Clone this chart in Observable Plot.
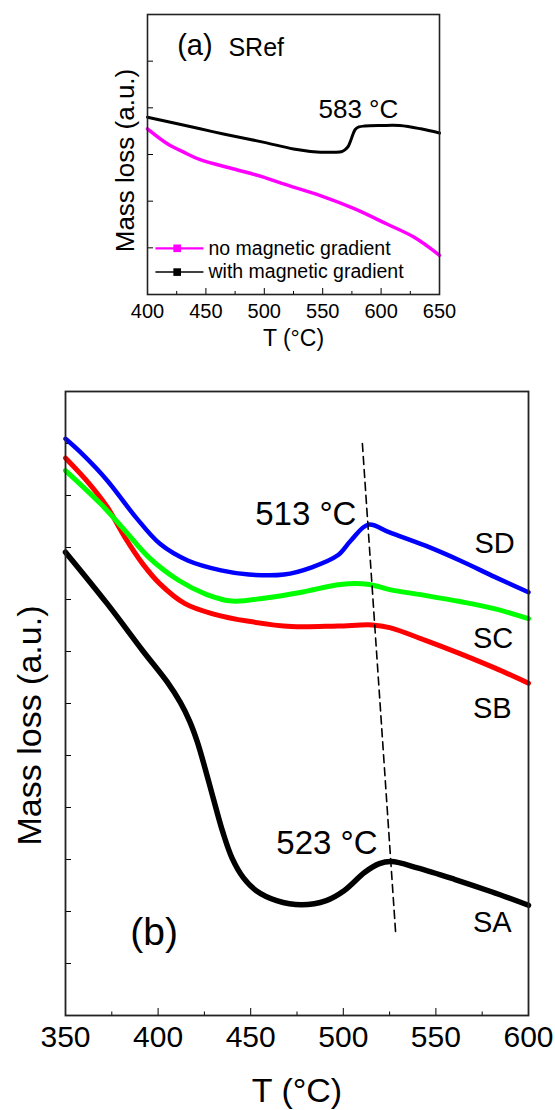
<!DOCTYPE html>
<html><head><meta charset="utf-8">
<script src="https://cdn.jsdelivr.net/npm/d3@7"></script>
<script src="https://cdn.jsdelivr.net/npm/@observablehq/plot@0.6"></script>
<style>body{margin:0;background:#fff;} #chart svg{display:block;}</style>
</head><body><div id="chart"></div>
<script>
// ---------- Panel (a): SRef ----------
const aNoGradT = [400, 417, 431, 445, 474, 500, 515, 548, 577, 605, 628, 650];
const aNoGradY = [3.55, 3.23, 3.05, 2.89, 2.69, 2.51, 2.38, 2.12, 1.84, 1.51, 1.23, 0.84];
const aWithGradT = [400, 445, 465, 500, 525, 548, 560, 566, 569, 572, 574, 576, 578, 581, 586, 600, 616, 634, 650];
const aWithGradY = [3.80, 3.55, 3.44, 3.26, 3.12, 3.05, 3.05, 3.06, 3.10, 3.18, 3.30, 3.44, 3.54, 3.59, 3.61, 3.62, 3.62, 3.55, 3.46];
const aXMajor = [400, 450, 500, 550, 600, 650];
const aXMinor = [425, 475, 525, 575, 625];
const aYTicks = [1, 2, 3, 4, 5];
const aLegendNames = ["no magnetic gradient", "with magnetic gradient"];

// ---------- Panel (b): SA-SD ----------
const sdT = [350, 359, 372.5, 388, 401, 416, 434, 449, 468, 483, 497, 504, 513.5, 525, 544, 563, 582, 600];
const sdY = [11.09, 10.80, 10.29, 9.58, 9.07, 8.75, 8.56, 8.48, 8.48, 8.62, 8.85, 9.13, 9.44, 9.29, 9.04, 8.75, 8.43, 8.14];
const scT = [350, 369, 382, 395, 411, 426, 440, 458, 477.5, 498.5, 514, 525, 544, 563, 582, 600];
const scY = [10.48, 9.84, 9.33, 8.81, 8.37, 8.10, 7.97, 8.03, 8.14, 8.29, 8.29, 8.19, 8.08, 7.96, 7.82, 7.63];
const sbT = [350, 363, 372.5, 382, 391.6, 401, 414.5, 430, 449, 472, 497, 515.6, 525, 544, 563, 582, 600];
const sbY = [10.72, 10.22, 9.78, 9.20, 8.69, 8.30, 7.92, 7.72, 7.58, 7.48, 7.49, 7.51, 7.46, 7.22, 6.96, 6.68, 6.39];
const saT = [350, 372.5, 391.6, 405, 412, 417, 421, 425, 430, 435, 440, 446, 453, 464, 477.5, 490.8, 500.4, 511.8, 519.5, 526, 540, 560, 580, 600];
const saY = [8.91, 7.92, 7.02, 6.41, 6.02, 5.66, 5.28, 4.80, 4.15, 3.52, 3.02, 2.65, 2.40, 2.21, 2.13, 2.21, 2.40, 2.76, 2.92, 2.96, 2.84, 2.62, 2.38, 2.12];
const guideT = [510.3, 528.3];
const guideY = [11.0, 1.57];
const bXMajor = [350, 400, 450, 500, 550, 600];
const bXMinor = [375, 425, 475, 525, 575];
const bYTicks = [1, 2, 3, 4, 5, 6, 7, 8, 9, 10, 11];

const FONT = "'Liberation Sans', Arial, Helvetica, sans-serif";
const rows = (T, Y) => T.map((t, i) => ({T: t, y: Y[i]}));
const blank = () => "";

// annotations (data coordinates)
const aNotes = [
  {text: "(a)", T: 425.4, y: 5.14, size: 29},
  {text: "SRef", T: 469.3, y: 5.12, size: 25},
  {text: "583 °C", T: 546.4, y: 3.79, size: 26}
];
const aLegend = [
  {name: aLegendNames[0], color: "#ff00ff", y: 0.99, w: 2.2},
  {name: aLegendNames[1], color: "#000000", y: 0.48, w: 1.5}
];
const bNotesEnd = [
  {text: "513 °C", T: 507.1, y: 9.44},
  {text: "523 °C", T: 518.5, y: 3.10}
];
const bNotesStart = [
  {text: "SD", T: 570.8, y: 8.90},
  {text: "SC", T: 570, y: 7.06},
  {text: "SB", T: 570, y: 5.73},
  {text: "SA", T: 570, y: 1.60}
];

const plotA = Plot.plot({
  width: 555, height: 360,
  marginLeft: 147, marginRight: 116, marginTop: 14, marginBottom: 66,
  x: {domain: [400, 650]}, y: {domain: [0, 6]},
  style: {fontFamily: FONT, background: "white", overflow: "visible", color: "#000"},
  marks: [
    Plot.axisX({ticks: aXMajor, tickSize: -6, tickPadding: 15, fontSize: 20, label: null}),
    Plot.axisX({ticks: aXMinor, tickSize: -3, tickFormat: blank, label: null}),
    Plot.axisY({ticks: aYTicks, tickSize: -6, tickFormat: blank, label: null}),
    Plot.line(rows(aNoGradT, aNoGradY), {x: "T", y: "y", stroke: "#ff00ff", strokeWidth: 3.5, curve: "catmull-rom"}),
    Plot.line(rows(aWithGradT, aWithGradY), {x: "T", y: "y", stroke: "#000", strokeWidth: 3, curve: "catmull-rom"}),
    Plot.text(aNotes, {x: "T", y: "y", text: "text", fontSize: (d) => d.size, textAnchor: "start", lineAnchor: "bottom"}),
    Plot.link(aLegend, {x1: 406.8, x2: 447.9, y1: "y", y2: "y", stroke: "color", strokeWidth: "w"}),
    Plot.dot(aLegend, {x: 425.4, y: "y", symbol: "square", r: 4.3, fill: "color", stroke: "none"}),
    Plot.text(aLegend, {x: 452.2, y: "y", text: "name", fontSize: 19.5, textAnchor: "start", lineAnchor: "middle"}),
    Plot.text(["Mass loss (a.u.)"], {frameAnchor: "left", rotate: -90, dx: -14, dy: 6, textAnchor: "middle", lineAnchor: "bottom", fontSize: 26}),
    Plot.text(["T (°C)"], {frameAnchor: "bottom", dy: 51, textAnchor: "middle", lineAnchor: "bottom", fontSize: 23}),
    Plot.frame({stroke: "#222", strokeWidth: 1.6})
  ]
});

const plotB = Plot.plot({
  width: 555, height: 750,
  marginLeft: 65, marginRight: 27, marginTop: 31, marginBottom: 95,
  x: {domain: [350, 600]}, y: {domain: [0, 12]},
  style: {fontFamily: FONT, background: "white", overflow: "visible", color: "#000"},
  marks: [
    Plot.axisX({ticks: bXMajor, tickSize: -7, tickPadding: 17, fontSize: 30, label: null}),
    Plot.axisX({ticks: bXMinor, tickSize: -3.5, tickFormat: blank, label: null}),
    Plot.axisY({ticks: bYTicks, tickSize: -6, tickFormat: blank, label: null}),
    Plot.line(rows(saT, saY), {x: "T", y: "y", stroke: "#000", strokeWidth: 5.5, curve: "catmull-rom"}),
    Plot.line(rows(sbT, sbY), {x: "T", y: "y", stroke: "#ff0000", strokeWidth: 5, curve: "catmull-rom"}),
    Plot.line(rows(scT, scY), {x: "T", y: "y", stroke: "#00ff00", strokeWidth: 5, curve: "catmull-rom"}),
    Plot.line(rows(sdT, sdY), {x: "T", y: "y", stroke: "#0000ff", strokeWidth: 4.5, curve: "catmull-rom"}),
    Plot.line(rows(guideT, guideY), {x: "T", y: "y", stroke: "#000", strokeWidth: 1.6, strokeDasharray: "8,5"}),
    Plot.text(bNotesEnd, {x: "T", y: "y", text: "text", fontSize: 33, textAnchor: "end", lineAnchor: "bottom"}),
    Plot.text(bNotesStart, {x: "T", y: "y", text: "text", fontSize: 29, textAnchor: "start", lineAnchor: "bottom"}),
    Plot.text(["(b)"], {x: 385, y: 1.35, fontSize: 39, textAnchor: "start", lineAnchor: "bottom"}),
    Plot.text(["Mass loss (a.u.)"], {frameAnchor: "left", rotate: -90, dx: -25, dy: 22, textAnchor: "middle", lineAnchor: "bottom", fontSize: 34}),
    Plot.text(["T (°C)"], {frameAnchor: "bottom", dy: 86, textAnchor: "middle", lineAnchor: "bottom", fontSize: 34}),
    Plot.frame({stroke: "#222", strokeWidth: 1.8})
  ]
});

const host = document.getElementById("chart");
host.appendChild(plotA);
host.appendChild(plotB);
</script>
</body></html>
